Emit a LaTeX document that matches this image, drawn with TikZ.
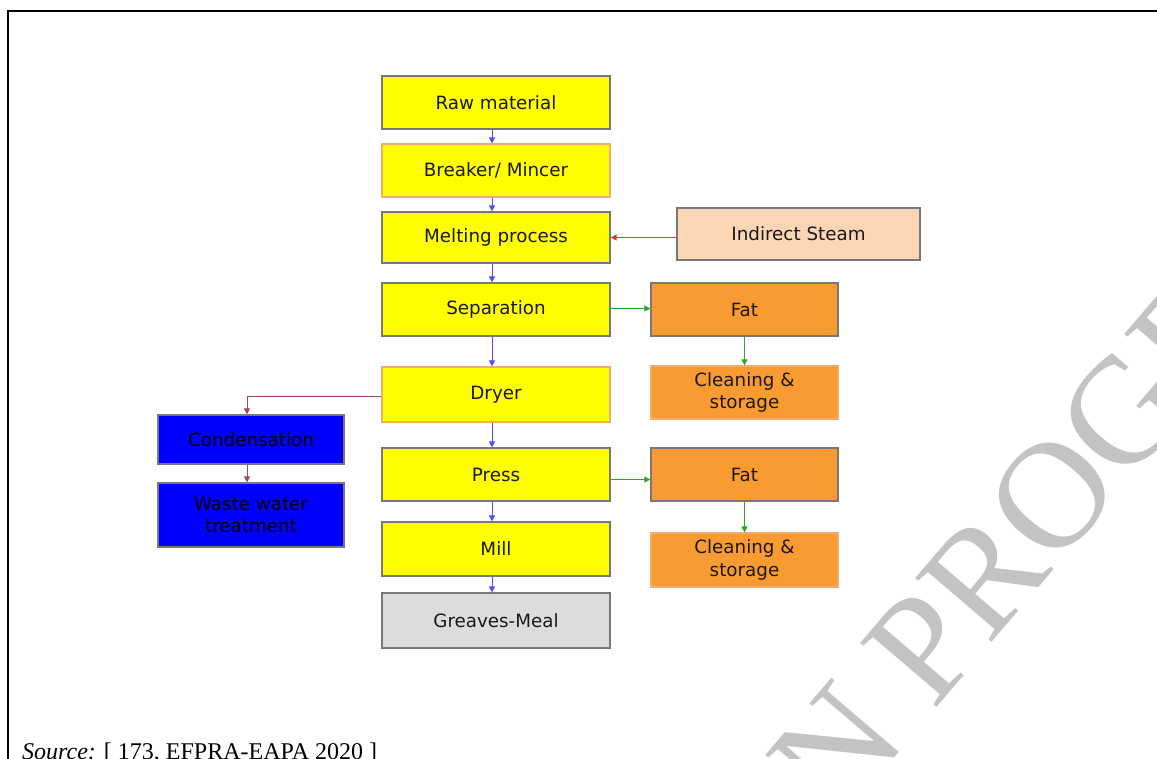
\documentclass[tikz,border=0pt]{standalone}
\usepackage{fontspec}
\setmainfont{DejaVu Sans}
\newfontfamily\srcfont{Liberation Serif}
\usetikzlibrary{arrows.meta}
\definecolor{boxyellow}{RGB}{255,255,0}
\definecolor{boxorange}{RGB}{250,155,50}
\definecolor{boxpeach}{RGB}{252,213,181}
\definecolor{boxblue}{RGB}{0,0,255}
\definecolor{boxgrey}{RGB}{220,220,220}
\definecolor{edgegray}{RGB}{120,120,120}
\definecolor{edgeorange}{RGB}{242,170,110}
\definecolor{textdark}{RGB}{25,25,25}
\definecolor{arrblue}{RGB}{80,80,255}
\definecolor{arrgreen}{RGB}{40,170,40}
\definecolor{arrred}{RGB}{255,50,50}
\definecolor{arrpurple}{RGB}{160,70,110}
\definecolor{wmgray}{RGB}{195,195,195}
\begin{document}
\begin{tikzpicture}[x=1pt,y=-1pt,
  box/.style={draw=edgegray, line width=1.2pt, inner sep=0pt, align=center,
    text=textdark, font=\fontsize{18.3}{22.5}\selectfont},
  mainbox/.style={box, fill=boxyellow, minimum width=228pt, minimum height=53pt},
  sidebox/.style={box, fill=boxorange, minimum width=187pt, minimum height=53pt},
  wastebox/.style={box, fill=boxblue, text=black, minimum width=186pt},
  conn/.style={line width=1pt, -{Triangle[length=6pt,width=6pt]}},
  bluearr/.style={conn, draw=arrblue},
  greenarr/.style={conn, draw=arrgreen},
  redarr/.style={conn, draw=arrred},
  purplearr/.style={conn, draw=arrpurple}]
\useasboundingbox (0,0) rectangle (1157,758);
\clip (0,0) rectangle (1157,758);
\fill[white] (0,0) rectangle (1157,758);

% watermark
\node[rotate=49.5, anchor=base west, inner sep=0pt, text=wmgray,
  font=\srcfont\fontsize{152}{152}\selectfont] (wm) at (805,862) {IN PROGRESS};

% frame
\draw[line width=2pt] (8,770) -- (8,11) -- (1170,11);

% main column
\node[mainbox] (raw) at (496,102.5) {Raw material};
\node[mainbox, draw=edgeorange] (breaker) at (496,170.5) {Breaker/ Mincer};
\node[mainbox, minimum height=51pt] (melt) at (496,237.5) {Melting process};
\node[mainbox] (sep) at (496,309.5) {Separation};
\node[mainbox, draw=edgeorange, minimum height=55pt] (dryer) at (496,394.5) {Dryer};
\node[mainbox] (press) at (496,474.5) {Press};
\node[mainbox, minimum height=54pt] (mill) at (496,549) {Mill};
\node[mainbox, fill=boxgrey, minimum height=55pt] (greaves) at (496,620.5) {Greaves-Meal};

% right side
\node[box, fill=boxpeach, minimum width=243pt, minimum height=52pt] (steam) at (798.5,234) {Indirect Steam};
\node[sidebox] (fat1) at (744.5,309.5) {Fat};
\node[sidebox, draw=edgeorange] (clean1) at (744.5,392.5) {Cleaning \&\\storage};
\node[sidebox] (fat2) at (744.5,474.5) {Fat};
\node[sidebox, draw=edgeorange, minimum height=54pt] (clean2) at (744.5,560) {Cleaning \&\\storage};

% left side
\node[wastebox, minimum height=49pt] (cond) at (251,439.5) {Condensation};
\node[wastebox, minimum height=64pt] (waste) at (251,515) {Waste water\\treatment};

% connectors
\draw[bluearr] ([xshift=-4pt]raw.south) -- ([xshift=-4pt]breaker.north);
\draw[bluearr] ([xshift=-4pt]breaker.south) -- ([xshift=-4pt]melt.north);
\draw[bluearr] ([xshift=-4pt]melt.south) -- ([xshift=-4pt]sep.north);
\draw[bluearr] ([xshift=-4pt]sep.south) -- ([xshift=-4pt]dryer.north);
\draw[bluearr] ([xshift=-4pt]dryer.south) -- ([xshift=-4pt]press.north);
\draw[bluearr] ([xshift=-4pt]press.south) -- ([xshift=-4pt]mill.north);
\draw[bluearr] ([xshift=-4pt]mill.south) -- ([xshift=-4pt]greaves.north);
\draw[redarr] (steam.west |- melt.east) -- (melt.east);
\draw[greenarr] ([yshift=1pt]sep.east) -- ([yshift=1pt]fat1.west);
\draw[greenarr] (fat1.south) -- (clean1.north);
\draw[greenarr] ([yshift=-5pt]press.east) -- ([yshift=-5pt]fat2.west);
\draw[greenarr] (fat2.south) -- (clean2.north);
\draw[purplearr] ([yshift=-1.5pt]dryer.west) -| ([xshift=-4pt]cond.north);
\draw[purplearr] ([xshift=-4pt]cond.south) -- ([xshift=-4pt]waste.north);

% source
\node[anchor=base west, inner sep=0pt, font=\srcfont\fontsize{24}{27}\selectfont] (src) at (22,759)
  {\textit{Source:} [ 173, EFPRA-EAPA 2020 ]};
\end{tikzpicture}
\end{document}
